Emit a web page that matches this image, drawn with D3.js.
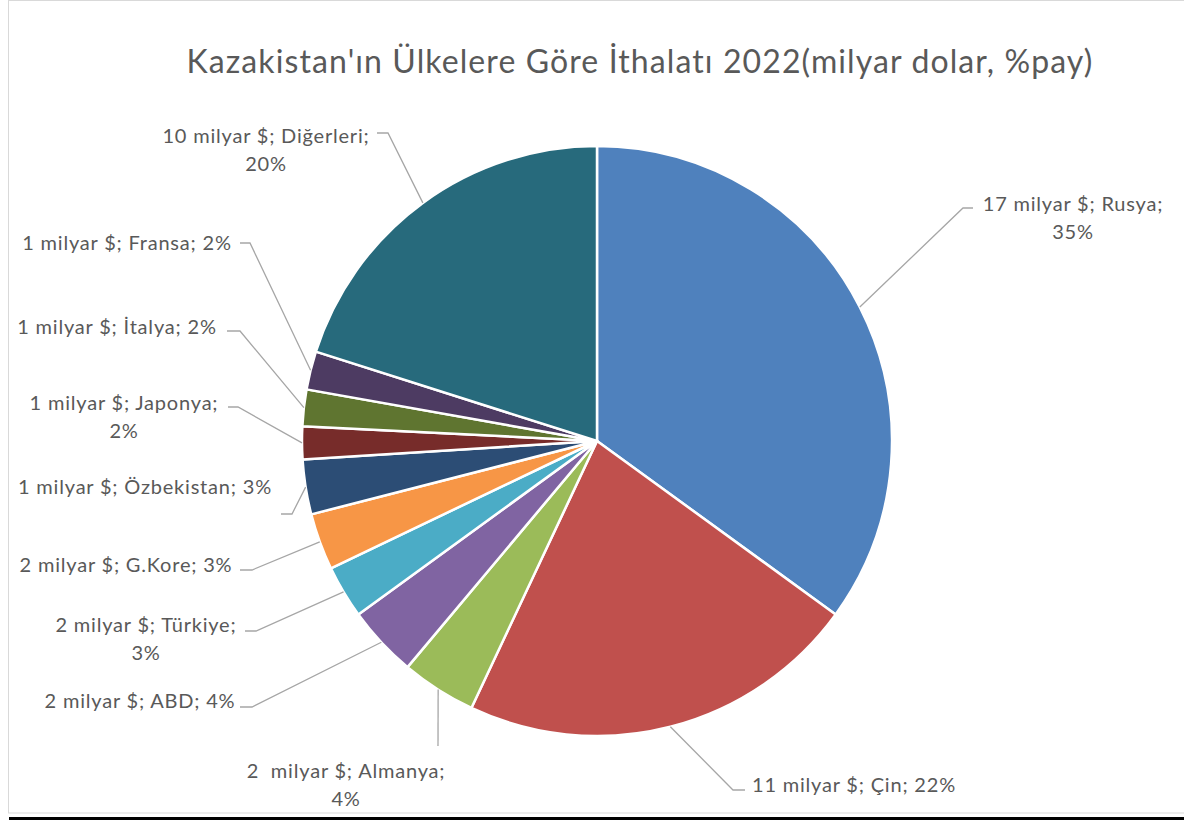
<!DOCTYPE html>
<html>
<head>
<meta charset="utf-8">
<script src="https://cdn.jsdelivr.net/npm/d3@7"></script>
<style>
  body { margin: 0; background: #fff; }
  text { font-family: Lato, "Open Sans", sans-serif; fill: #595959; white-space: pre; }
</style>
</head>
<body>
<div id="chart"></div>
<script>
// Kazakhstan imports by country, 2022
const countries = ["Rusya", "Çin", "Almanya", "ABD", "Türkiye", "G.Kore", "Özbekistan", "Japonya", "İtalya", "Fransa", "Diğerleri"];
const amounts = ["17", "11", "2 ", "2", "2", "2", "1", "1", "1", "1", "10"];   // milyar $ as printed on the labels
const percents = [35, 22, 4, 4, 3, 3, 3, 2, 2, 2, 20];                          // printed share
const shares = [35.0, 22.0, 4.1, 3.9, 2.9, 3.1, 3.0, 1.8, 2.0, 2.1, 20.1];       // slice size
const colors = ["#4f81bd", "#c0504d", "#9bbb59", "#8064a2", "#4bacc6", "#f79646", "#2c4d75", "#772c2a", "#5f7530", "#4d3b62", "#276a7c"];

const title = "Kazakistan'ın Ülkelere Göre İthalatı 2022(milyar dolar, %pay)";

function pieChart() {
  let width = 1184, height = 821;
  let cx = 597, cy = 441, radius = 295;

  // label layout: elbow point, end of short horizontal tick, label centre, wrapped or not
  let layout = [
    { elbow: [963, 208], tick: [973, 208], at: [1073, 203], wrap: true },
    { elbow: [733, 790], tick: [745, 790], at: [854, 784], wrap: false },
    { elbow: [438, 746], tick: [438, 746], at: [346, 770], wrap: true },
    { elbow: [252, 707], tick: [240, 707], at: [140, 700], wrap: false },
    { elbow: [256, 631], tick: [245, 631], at: [146, 624], wrap: true },
    { elbow: [252, 570], tick: [240, 570], at: [126, 564], wrap: false },
    { elbow: [292, 514], tick: [281, 514], at: [145, 486], wrap: false },
    { elbow: [238, 407], tick: [228, 407], at: [124, 402], wrap: true },
    { elbow: [240, 331], tick: [227, 331], at: [117, 326], wrap: false },
    { elbow: [250, 243], tick: [240, 243], at: [127, 242], wrap: false },
    { elbow: [388, 133], tick: [377, 133], at: [266, 135], wrap: true }
  ];

  function chart(selector) {
    d3.select(selector).select("svg").remove();

    let data = countries.map((c, i) => ({
      name: c, amount: amounts[i], pct: percents[i], value: shares[i], color: colors[i], pos: layout[i]
    }));

    let svg = d3.select(selector)
      .append("svg")
      .attr("width", width)
      .attr("height", height);

    // chart frame
    svg.append("rect")
      .attr("x", 8.5).attr("y", 0.5)
      .attr("width", 1190).attr("height", 812.5)
      .attr("fill", "#fff")
      .attr("stroke", "#d9d9d9");

    svg.append("rect")
      .attr("x", 9).attr("y", 817)
      .attr("width", 1175).attr("height", 3)
      .attr("fill", "#000");

    svg.append("text")
      .attr("x", 640).attr("y", 73)
      .attr("text-anchor", "middle")
      .style("font-size", "32px")
      .style("letter-spacing", "1.1px")
      .text(title);

    let pie = d3.pie().sort(null).value(d => d.value);
    let arc = d3.arc().innerRadius(0).outerRadius(radius);
    let arcs = pie(data);

    let g = svg.append("g").attr("transform", `translate(${cx},${cy})`);

    g.selectAll("path")
      .data(arcs)
      .enter().append("path")
      .attr("d", arc)
      .attr("fill", d => d.data.color)
      .attr("stroke", "#fff")
      .attr("stroke-width", 2.5)
      .attr("stroke-linejoin", "round");

    // leader lines from the slice edge at mid-angle
    svg.append("g").selectAll("polyline")
      .data(arcs)
      .enter().append("polyline")
      .attr("points", d => {
        let a = (d.startAngle + d.endAngle) / 2;
        let p0 = [cx + radius * Math.sin(a), cy - radius * Math.cos(a)];
        return [p0, d.data.pos.elbow, d.data.pos.tick].map(p => p.join(",")).join(" ");
      })
      .attr("fill", "none")
      .attr("stroke", "#a6a6a6")
      .attr("stroke-width", 1.3);

    let labels = svg.append("g").selectAll("text")
      .data(data)
      .enter().append("text")
      .attr("text-anchor", "middle")
      .style("font-size", "20px")
      .style("letter-spacing", "0.8px")
      .attr("dominant-baseline", "central");

    labels.each(function (d) {
      let t = d3.select(this);
      let first = `${d.amount} milyar $; ${d.name};`;
      let lines = d.pos.wrap ? [first, `${d.pct}%`] : [`${first} ${d.pct}%`];
      lines.forEach((s, i) => {
        t.append("tspan")
          .attr("x", d.pos.at[0])
          .attr("y", d.pos.at[1] + i * 27.5)
          .text(s);
      });
    });
  }

  return chart;
}

pieChart()("#chart");
</script>
</body>
</html>
